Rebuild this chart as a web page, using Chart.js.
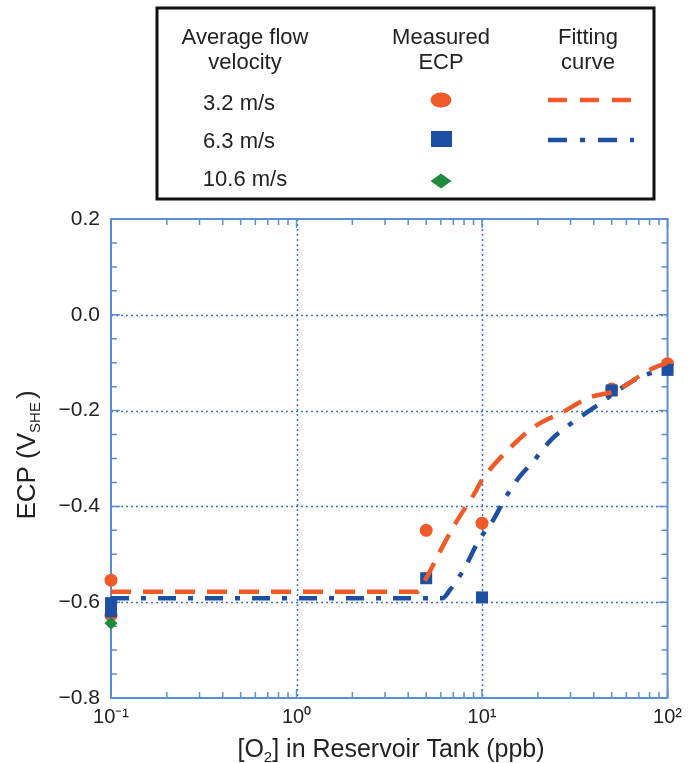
<!DOCTYPE html>
<html>
<head>
<meta charset="utf-8">
<script src="https://cdn.jsdelivr.net/npm/chart.js@4/dist/chart.umd.min.js"></script>
<style>
  body { margin: 0; background: #fff; }
  #wrap { width: 689px; height: 763px; }
</style>
</head>
<body>
<div id="wrap"><canvas id="myChart" width="689" height="763"></canvas></div>
<script>
// legend rows
const velocities = ["3.2 m/s", "6.3 m/s", "10.6 m/s"];

// measured ECP (V_SHE) vs [O2] (ppb)
const o2Measured32 = [0.1, 0.1, 5, 10, 50, 100];
const ecpMeasured32 = [-0.554, -0.627, -0.45, -0.435, -0.155, -0.102];
const o2Measured63 = [0.1, 0.1, 5, 10, 50, 100];
const ecpMeasured63 = [-0.602, -0.619, -0.55, -0.59, -0.158, -0.115];
const o2Measured106 = [0.1];
const ecpMeasured106 = [-0.644];

// fitting curves
const o2Fit32 = [0.1, 4.5, 5, 5.9, 7.2, 9.1, 10, 13.9, 18.9, 27.5, 37.7, 53, 80, 100];
const ecpFit32 = [-0.578, -0.578, -0.55, -0.496, -0.435, -0.373, -0.345, -0.281, -0.235, -0.202, -0.173, -0.158, -0.115, -0.1];
const o2Fit63 = [0.1, 6.1, 6.7, 8.1, 9.6, 11.3, 13.6, 15.8, 18.9, 23.7, 29.7, 40.1, 67, 100];
const ecpFit63 = [-0.592, -0.592, -0.575, -0.527, -0.471, -0.433, -0.377, -0.34, -0.306, -0.26, -0.229, -0.194, -0.135, -0.11];

const decadeLabels = { "0.1": "10\u207B\u00B9", "1": "10\u2070", "10": "10\u00B9", "100": "10\u00B2" };

const orange = "#f05a28";
const blue = "#1d50a3";
const green = "#1f8a3e";
const frameBlue = "#5a8fd2";
const gridBlue = "#3d72c4";
const font = '"Liberation Sans", Arial, Helvetica, sans-serif';

const pts = (xs, ys) => xs.map((x, i) => ({ x: x, y: ys[i] }));

// draws text pieces in a row, the small ones lowered as subscripts
function drawPieces(ctx, pieces, cx, y) {
  let total = 0;
  pieces.forEach((p) => {
    ctx.font = p.size + "px " + font;
    p.w = ctx.measureText(p.t).width + (p.gap || 0);
    total += p.w;
  });
  let x = cx - total / 2;
  pieces.forEach((p) => {
    ctx.font = p.size + "px " + font;
    ctx.fillText(p.t, x, y + (p.dy || 0));
    x += p.w;
  });
}

const framePlugin = {
  id: "frame",
  beforeDatasetsDraw(chart) {
    const ctx = chart.ctx;
    const a = chart.chartArea;
    const xs = chart.scales.x;
    const ys = chart.scales.y;
    ctx.save();
    // dotted grid
    ctx.strokeStyle = gridBlue;
    ctx.lineWidth = 1.5;
    ctx.setLineDash([2, 3]);
    [1, 10].forEach((v) => {
      const px = Math.round(xs.getPixelForValue(v)) + 0.5;
      ctx.beginPath(); ctx.moveTo(px, a.top); ctx.lineTo(px, a.bottom); ctx.stroke();
    });
    [0, -0.2, -0.4, -0.6].forEach((v) => {
      const py = Math.round(ys.getPixelForValue(v)) + 0.5;
      ctx.beginPath(); ctx.moveTo(a.left, py); ctx.lineTo(a.right, py); ctx.stroke();
    });
    ctx.setLineDash([]);
    // inner ticks
    ctx.strokeStyle = frameBlue;
    ctx.lineWidth = 1.5;
    for (let d = 0.1; d < 100; d *= 10) {
      for (let m = 2; m <= 10; m++) {
        const px = xs.getPixelForValue(d * m);
        const len = m === 10 ? 9 : 6;
        ctx.beginPath();
        ctx.moveTo(px, a.bottom); ctx.lineTo(px, a.bottom - len);
        ctx.moveTo(px, a.top); ctx.lineTo(px, a.top + len);
        ctx.stroke();
      }
    }
    for (let i = 1; i < 20; i++) {
      const py = ys.getPixelForValue(0.2 - i * 0.05);
      const len = i % 4 === 0 ? 9 : 6;
      ctx.beginPath();
      ctx.moveTo(a.left, py); ctx.lineTo(a.left + len, py);
      ctx.moveTo(a.right, py); ctx.lineTo(a.right - len, py);
      ctx.stroke();
    }
    // frame
    ctx.lineWidth = 2;
    ctx.strokeRect(a.left, a.top, a.right - a.left, a.bottom - a.top);
    ctx.restore();
  },
  afterDraw(chart) {
    const ctx = chart.ctx;

    // y title
    ctx.save();
    ctx.fillStyle = "#222";
    ctx.textAlign = "left";
    ctx.textBaseline = "alphabetic";
    ctx.translate(35, 455);
    ctx.rotate(-Math.PI / 2);
    drawPieces(ctx, [
      { t: "ECP (V", size: 26 },
      { t: "SHE", size: 15, dy: 5, gap: 3 },
      { t: ")", size: 26 },
    ], 0, 0);
    ctx.restore();

    // x title
    ctx.save();
    ctx.fillStyle = "#222";
    ctx.textAlign = "left";
    ctx.textBaseline = "alphabetic";
    drawPieces(ctx, [
      { t: "[O", size: 25 },
      { t: "2", size: 15, dy: 5 },
      { t: "] in Reservoir Tank (ppb)", size: 25 },
    ], 391, 757);
    ctx.restore();

    // legend box
    ctx.save();
    ctx.strokeStyle = "#111";
    ctx.lineWidth = 3;
    ctx.strokeRect(157, 8, 497, 191);
    ctx.fillStyle = "#222";
    ctx.font = "22px " + font;
    ctx.textAlign = "center";
    ctx.textBaseline = "alphabetic";
    ctx.fillText("Average flow", 245, 44);
    ctx.fillText("velocity", 245, 69);
    ctx.fillText("Measured", 441, 44);
    ctx.fillText("ECP", 441, 69);
    ctx.fillText("Fitting", 588, 44);
    ctx.fillText("curve", 588, 69);
    const rowY = [110, 148, 186];
    const rowX = [239, 239, 245];
    velocities.forEach((v, i) => ctx.fillText(v, rowX[i], rowY[i]));
    // markers
    ctx.fillStyle = orange;
    ctx.beginPath(); ctx.ellipse(441, 100, 10.5, 7.5, 0, 0, Math.PI * 2); ctx.fill();
    ctx.fillStyle = blue;
    ctx.fillRect(431, 131, 21, 16);
    ctx.fillStyle = green;
    ctx.beginPath();
    ctx.moveTo(441, 173.5); ctx.lineTo(451.5, 181); ctx.lineTo(441, 188.5); ctx.lineTo(430.5, 181);
    ctx.closePath(); ctx.fill();
    // line samples
    ctx.lineWidth = 4.5;
    ctx.strokeStyle = orange;
    ctx.setLineDash([19, 13]);
    ctx.beginPath(); ctx.moveTo(548, 100); ctx.lineTo(634, 100); ctx.stroke();
    ctx.strokeStyle = blue;
    ctx.setLineDash([19, 13, 5, 13]);
    ctx.beginPath(); ctx.moveTo(548, 140); ctx.lineTo(634, 140); ctx.stroke();
    ctx.restore();
  }
};

const chart = new Chart(document.getElementById("myChart").getContext("2d"), {
  type: "scatter",
  data: {
    datasets: [
      {
        label: "10.6 m/s measured",
        data: pts(o2Measured106, ecpMeasured106),
        pointStyle: "rectRot",
        pointRadius: 6.5,
        backgroundColor: green,
        borderColor: green,
        borderWidth: 0,
        clip: false,
        order: 0,
      },
      {
        label: "3.2 m/s fit",
        data: pts(o2Fit32, ecpFit32),
        showLine: true,
        pointRadius: 0,
        borderColor: orange,
        borderWidth: 4.5,
        borderDash: [20, 12],
        cubicInterpolationMode: "monotone",
        order: 1,
      },
      {
        label: "6.3 m/s measured",
        data: pts(o2Measured63, ecpMeasured63),
        pointStyle: "rect",
        pointRadius: 8.5,
        backgroundColor: blue,
        borderColor: blue,
        borderWidth: 0,
        clip: false,
        order: 2,
      },
      {
        label: "3.2 m/s measured",
        data: pts(o2Measured32, ecpMeasured32),
        pointStyle: "circle",
        pointRadius: 6.5,
        backgroundColor: orange,
        borderColor: orange,
        borderWidth: 0,
        clip: false,
        order: 3,
      },
      {
        label: "6.3 m/s fit",
        data: pts(o2Fit63, ecpFit63),
        showLine: true,
        pointRadius: 0,
        borderColor: blue,
        borderWidth: 4.5,
        borderDash: [18, 12, 5, 12],
        cubicInterpolationMode: "monotone",
        order: 4,
      },
    ],
  },
  options: {
    responsive: false,
    animation: false,
    events: [],
    layout: { padding: { left: 0, right: 19, top: 219, bottom: 0 } },
    plugins: { legend: { display: false }, tooltip: { enabled: false } },
    scales: {
      x: {
        type: "logarithmic",
        min: 0.1,
        max: 100,
        grid: { display: false, drawTicks: false },
        border: { display: false },
        afterFit: (s) => { s.height = 65; },
        ticks: {
          autoSkip: false,
          maxRotation: 0,
          padding: 7,
          color: "#222",
          font: { size: 20, family: font },
          callback: (v) => decadeLabels[String(Number(v.toPrecision(3)))] || "",
        },
      },
      y: {
        min: -0.8,
        max: 0.2,
        grid: { display: false, drawTicks: false },
        border: { display: false },
        afterFit: (s) => { s.width = 111; },
        ticks: {
          stepSize: 0.2,
          padding: 11,
          color: "#222",
          font: { size: 21, family: font },
          callback: (v) => {
            const t = Number(v).toFixed(1);
            return t.startsWith("-") ? "\u2212" + t.slice(1) : t;
          },
        },
      },
    },
  },
  plugins: [framePlugin],
});
</script>
</body>
</html>
